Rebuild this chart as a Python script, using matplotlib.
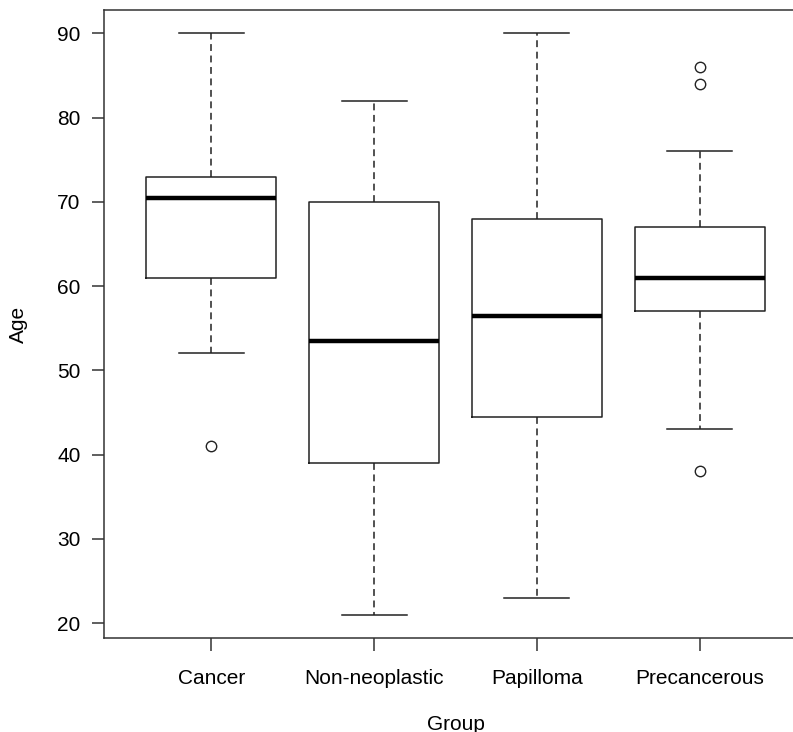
import matplotlib
matplotlib.use("Agg")
import matplotlib.pyplot as plt

plt.rcParams['font.family'] = ['Liberation Sans', 'DejaVu Sans']

# Age per diagnostic group
groups = ["Cancer", "Non-neoplastic", "Papilloma", "Precancerous"]
whislo = [52, 21, 23, 43]
q1 = [61, 39, 44.5, 57]
med = [70.5, 53.5, 56.5, 61]
q3 = [73, 70, 68, 67]
whishi = [90, 82, 90, 76]
fliers = [[41], [], [], [86, 84, 38]]

stats = []
for i, g in enumerate(groups):
    stats.append(dict(label=g, whislo=whislo[i], q1=q1[i], med=med[i],
                      q3=q3[i], whishi=whishi[i], fliers=fliers[i]))

fig = plt.figure(figsize=(7.93, 7.32), dpi=100)
# R-style plot region; the right edge runs off the image like the original
ax = fig.add_axes([104 / 793, 94 / 732, (807 - 104) / 793, (638 - 10) / 732])

line_kw = dict(color='#222222', linewidth=1.1)
ax.bxp(stats, positions=range(1, len(groups) + 1), widths=0.8,
       boxprops=line_kw,
       whiskerprops=dict(color='#222222', linewidth=1.1, linestyle=(0, (4.5, 3))),
       capprops=line_kw, capwidths=0.4,
       medianprops=dict(color='black', linewidth=3.2, solid_capstyle='butt'),
       flierprops=dict(marker='o', markerfacecolor='none', markeredgecolor='#222222',
                       markersize=7.5, markeredgewidth=1.0))

ax.set_xlim(0.34, 4.66)
ax.set_ylim(18.24, 92.76)
ax.set_yticks([20, 30, 40, 50, 60, 70, 80, 90])
ax.set_xticks(range(1, len(groups) + 1))
ax.set_xticklabels(groups)

for s in ax.spines.values():
    s.set_color('#333333')
    s.set_linewidth(1.1)

ax.tick_params(axis='both', labelsize=15, length=9, width=1.1, color='#333333', pad=8)
ax.tick_params(axis='x', pad=13)
ax.set_ylabel("Age", fontsize=15, labelpad=21)
ax.set_xlabel("Group", fontsize=15, labelpad=20)

fig.savefig("out.png", dpi=100)
